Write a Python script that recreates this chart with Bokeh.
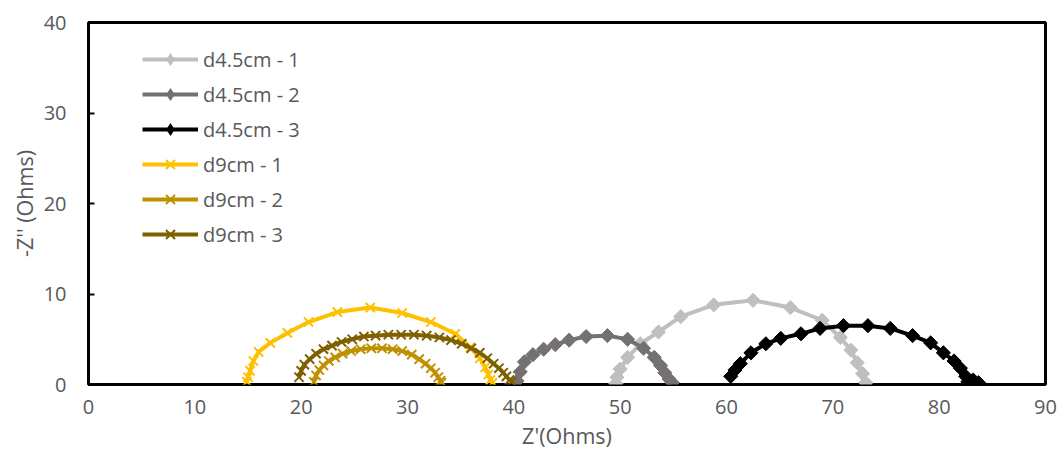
import numpy as np
from bokeh.plotting import figure
from bokeh.models import Range1d, Legend, LegendItem, FixedTicker
from bokeh.embed import file_html
from bokeh.resources import INLINE

# ---- data ----
x_d45_1 = [49.6, 49.7, 50.0, 50.7, 51.9, 53.6, 55.7, 58.8, 62.5, 66.0, 69.0, 70.7, 71.7, 72.3, 72.8, 73.1]
y_d45_1 = [0.1, 0.8, 1.7, 3.0, 4.5, 5.8, 7.5, 8.8, 9.3, 8.5, 7.1, 5.2, 3.8, 2.4, 1.2, 0.2]

x_d45_2 = [40.3, 40.6, 41.0, 41.8, 42.8, 43.9, 45.2, 46.8, 48.8, 50.7, 52.2, 53.2, 53.8, 54.2, 54.6, 54.9]
y_d45_2 = [0.4, 1.4, 2.5, 3.3, 3.9, 4.4, 4.9, 5.3, 5.4, 5.0, 4.0, 3.0, 2.1, 1.3, 0.6, 0.2]

x_d45_3 = [60.4, 60.8, 61.3, 62.3, 63.7, 65.1, 67.0, 68.8, 71.0, 73.3, 75.4, 77.5, 79.2, 80.4, 81.4, 82.0, 82.5, 82.7, 83.2, 83.7]
y_d45_3 = [0.9, 1.6, 2.3, 3.5, 4.5, 5.1, 5.6, 6.2, 6.5, 6.5, 6.2, 5.4, 4.6, 3.5, 2.6, 1.8, 0.9, 0.3, 0.5, 0.2]

x_d9_1 = [14.9, 15.0, 15.2, 15.5, 16.0, 17.1, 18.7, 20.7, 23.4, 26.5, 29.5, 32.2, 34.5, 35.9, 36.8, 37.3, 37.6, 37.8, 38.0]
y_d9_1 = [0.3, 0.8, 1.5, 2.6, 3.6, 4.6, 5.7, 6.9, 8.0, 8.5, 7.9, 6.9, 5.6, 4.1, 2.9, 1.9, 1.1, 0.5, 0.2]

x_d9_2 = [21.2, 21.4, 21.7, 22.1, 22.6, 23.2, 23.9, 24.7, 25.6, 26.6, 27.6, 28.6, 29.5, 30.4, 31.1, 31.7, 32.2, 32.6, 32.9, 33.1, 33.2]
y_d9_2 = [0.3, 1.0, 1.6, 2.1, 2.6, 3.0, 3.4, 3.7, 3.9, 4.0, 4.0, 3.9, 3.7, 3.3, 2.8, 2.3, 1.8, 1.3, 0.8, 0.4, 0.2]

x_d9_3 = [19.8, 20.0, 20.3, 20.8, 21.4, 22.1, 22.9, 23.8, 24.8, 25.9, 27.0, 28.2, 29.4, 30.6, 31.8, 33.0, 34.1, 35.1, 36.0, 36.8, 37.5, 38.1, 38.6, 39.0, 39.3, 39.6, 39.8]
y_d9_3 = [0.8, 1.5, 2.2, 2.8, 3.4, 3.9, 4.3, 4.7, 5.0, 5.3, 5.4, 5.5, 5.5, 5.5, 5.4, 5.2, 4.9, 4.5, 4.0, 3.5, 2.9, 2.3, 1.8, 1.3, 0.9, 0.5, 0.3]

labels = ["d4.5cm - 1", "d4.5cm - 2", "d4.5cm - 3", "d9cm - 1", "d9cm - 2", "d9cm - 3"]
xs = [x_d45_1, x_d45_2, x_d45_3, x_d9_1, x_d9_2, x_d9_3]
ys = [y_d45_1, y_d45_2, y_d45_3, y_d9_1, y_d9_2, y_d9_3]
colors = ["#BFBFBF", "#767171", "#000000", "#FFC000", "#BF9000", "#7F6000"]
markers = ["diamond", "diamond", "diamond", "x", "x", "x"]

x_ticks = [0, 10, 20, 30, 40, 50, 60, 70, 80, 90]
y_ticks = [0, 10, 20, 30, 40]

FONT = "Open Sans"
TXT = "#595959"

p = figure(width=1058, height=454, output_backend="svg", toolbar_location=None,
           x_range=Range1d(0, 90), y_range=Range1d(0, 40),
           min_border_left=88, min_border_top=22, min_border_right=13, min_border_bottom=70)
p.grid.visible = False
p.outline_line_color = "black"
p.outline_line_width = 3
p.background_fill_color = "white"

for ax in (p.xaxis[0], p.yaxis[0]):
    ax.axis_line_color = None
    ax.minor_tick_line_color = None
    ax.major_label_text_font = FONT
    ax.major_label_text_font_size = "20px"
    ax.major_label_text_color = TXT
    ax.axis_label_text_font = FONT
    ax.axis_label_text_font_size = "21.5px"
    ax.axis_label_text_font_style = "normal"
    ax.axis_label_text_color = TXT

p.xaxis.ticker = FixedTicker(ticks=x_ticks)
p.yaxis.ticker = FixedTicker(ticks=y_ticks)
p.xaxis.major_tick_line_color = None
p.xaxis.major_tick_in = 0
p.xaxis.major_tick_out = 0
p.xaxis.major_label_standoff = 15
p.xaxis.axis_label = "Z'(Ohms)"
p.xaxis.axis_label_standoff = 4

p.yaxis.major_tick_in = 6
p.yaxis.major_tick_out = 0
p.yaxis.major_tick_line_color = "black"
p.yaxis.major_tick_line_width = 2
p.yaxis.major_label_standoff = 22
p.yaxis.axis_label = "-Z'' (Ohms)"
p.yaxis.axis_label_standoff = 2

items = []
for lab, xv, yv, c, m in zip(labels, xs, ys, colors, markers):
    r1 = p.line(xv, yv, line_color=c, line_width=4)
    if m == "diamond":
        p.scatter(xv, yv, marker="square", size=10, angle=np.pi / 4,
                  fill_color=c, line_color=c, line_width=1)
        # legend marker: drawn at zero size in the plot, legend sizes it itself
        r3 = p.scatter(xv, yv, marker="diamond", size=0,
                       fill_color=c, line_color=c, line_width=1, line_alpha=0.0)
        items.append(LegendItem(label=lab, renderers=[r1, r3]))
    else:
        r2 = p.scatter(xv, yv, marker="x", size=13, line_color=c, line_width=2)
        items.append(LegendItem(label=lab, renderers=[r1, r2]))

legend = Legend(items=items, location=(54, 134),
                glyph_width=56, glyph_height=32, spacing=3, label_standoff=5,
                padding=0, margin=0, border_line_alpha=0, background_fill_alpha=0,
                label_text_font=FONT, label_text_font_size="20px", label_text_color=TXT)
p.add_layout(legend)

open("out.html", "w").write(file_html(p, INLINE))
